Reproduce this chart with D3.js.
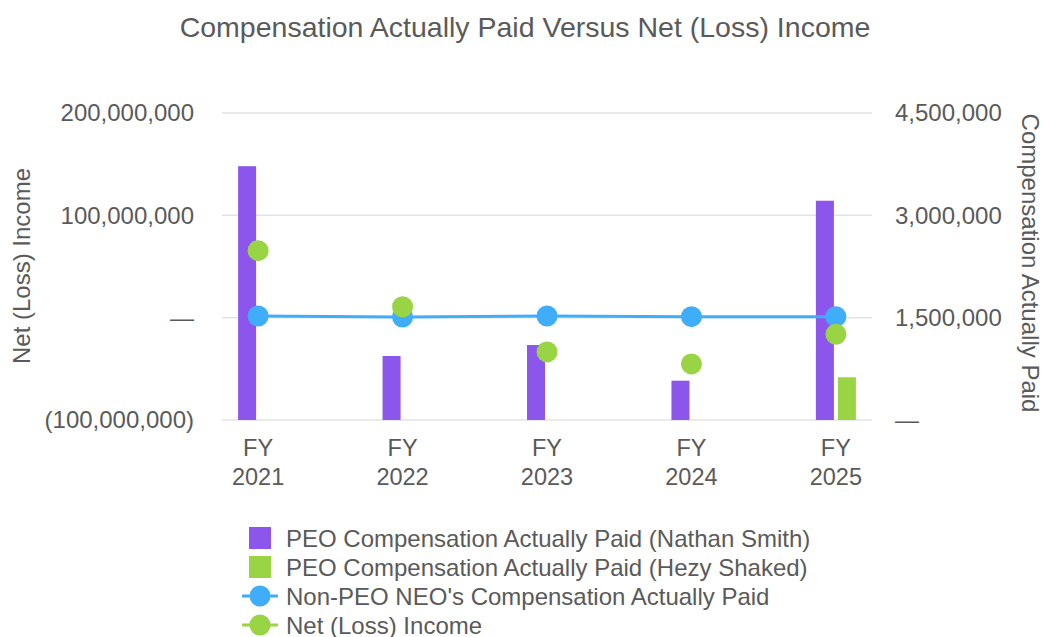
<!DOCTYPE html>
<html>
<head>
<meta charset="utf-8">
<script src="https://cdn.jsdelivr.net/npm/d3@7"></script>
<style>
  body { margin: 0; background: #fff; }
  text { font-family: "Liberation Sans", Arial, sans-serif; fill: #5a5a5a; }
</style>
</head>
<body>
<div id="chart"></div>
<script>
// данные графика
const years = ["2021", "2022", "2023", "2024", "2025"];
const peoSmith = [3720000, 938000, 1099000, 576000, 3214000];
const peoShaked = [null, null, null, null, 626000];
const nonPeo = [1524000, 1510000, 1524000, 1515000, 1515000];
const netIncome = [65500000, 10700000, -33500000, -45200000, -16200000];

const leftTicks = [-100000000, 0, 100000000, 200000000];
const rightTicks = [0, 1500000, 3000000, 4500000];

const seriesNames = [
    "PEO Compensation Actually Paid (Nathan Smith)",
    "PEO Compensation Actually Paid (Hezy Shaked)",
    "Non-PEO NEO's Compensation Actually Paid",
    "Net (Loss) Income"
];

const purple = "#8c55eb";
const green = "#98d444";
const blue = "#40adfb";

const width = 1043;
const height = 637;

const svg = d3.select("#chart").append("svg")
    .attr("width", width)
    .attr("height", height);

// оси
const x = d3.scalePoint().domain(years).range([222, 872]).padding(0.25);
const yLeft = d3.scaleLinear().domain([-100000000, 200000000]).range([420, 113]);
const yRight = d3.scaleLinear().domain([0, 4500000]).range([420, 113]);

const fmt = v => {
    if (v === 0) return "—";
    const s = d3.format(",")(Math.abs(v));
    return v < 0 ? "(" + s + ")" : s;
};

// сетка
svg.append("g")
    .selectAll("line")
    .data(rightTicks)
    .join("line")
    .attr("x1", 222)
    .attr("x2", 872)
    .attr("y1", d => yRight(d))
    .attr("y2", d => yRight(d))
    .attr("stroke", "#e3e3e3")
    .attr("stroke-width", 1.5);

// левая ось
const gl = svg.append("g")
    .attr("transform", "translate(194,0)")
    .call(d3.axisLeft(yLeft).tickValues(leftTicks).tickFormat(fmt).tickSize(0).tickPadding(0));
gl.select(".domain").remove();
gl.selectAll("text").attr("font-size", 24).attr("fill", "#5a5a5a").attr("font-family", null);

// правая ось
const gr = svg.append("g")
    .attr("transform", "translate(895,0)")
    .call(d3.axisRight(yRight).tickValues(rightTicks).tickFormat(fmt).tickSize(0).tickPadding(0));
gr.select(".domain").remove();
gr.selectAll("text").attr("font-size", 24).attr("fill", "#5a5a5a").attr("font-family", null);

// подписи по X
const gx = svg.append("g");
years.forEach(yr => {
    const t = gx.append("text")
        .attr("x", x(yr))
        .attr("text-anchor", "middle")
        .attr("font-size", 23.5);
    t.append("tspan").attr("x", x(yr)).attr("y", 456).text("FY");
    t.append("tspan").attr("x", x(yr)).attr("y", 485).text(yr);
});

// столбцы
const barW = 18;
svg.append("g")
    .selectAll("rect")
    .data(years.map((yr, i) => ({ yr, v: peoSmith[i] })).filter(d => d.v != null))
    .join("rect")
    .attr("x", d => x(d.yr) - 2 - barW)
    .attr("width", barW)
    .attr("y", d => yRight(d.v))
    .attr("height", d => yRight(0) - yRight(d.v))
    .attr("fill", purple);

svg.append("g")
    .selectAll("rect")
    .data(years.map((yr, i) => ({ yr, v: peoShaked[i] })).filter(d => d.v != null))
    .join("rect")
    .attr("x", d => x(d.yr) + 2)
    .attr("width", barW)
    .attr("y", d => yRight(d.v))
    .attr("height", d => yRight(0) - yRight(d.v))
    .attr("fill", green);

// линия Non-PEO
const line = d3.line()
    .x((d, i) => x(years[i]))
    .y(d => yRight(d));

svg.append("path")
    .datum(nonPeo)
    .attr("fill", "none")
    .attr("stroke", blue)
    .attr("stroke-width", 3)
    .attr("d", line);

svg.append("g")
    .selectAll("circle")
    .data(nonPeo)
    .join("circle")
    .attr("cx", (d, i) => x(years[i]))
    .attr("cy", d => yRight(d))
    .attr("r", 10.5)
    .attr("fill", blue);

// точки Net Income
svg.append("g")
    .selectAll("circle")
    .data(netIncome)
    .join("circle")
    .attr("cx", (d, i) => x(years[i]))
    .attr("cy", d => yLeft(d))
    .attr("r", 10.5)
    .attr("fill", green);

// заголовок
svg.append("text")
    .attr("x", 525)
    .attr("y", 37)
    .attr("text-anchor", "middle")
    .attr("font-size", 28.5)
    .text("Compensation Actually Paid Versus Net (Loss) Income");

// подписи осей
svg.append("text")
    .attr("transform", "translate(30,266) rotate(-90)")
    .attr("text-anchor", "middle")
    .attr("font-size", 24)
    .text("Net (Loss) Income");

svg.append("text")
    .attr("transform", "translate(1022,263) rotate(90)")
    .attr("text-anchor", "middle")
    .attr("font-size", 24)
    .text("Compensation Actually Paid");

// легенда
const legend = svg.append("g");
const rowY = [538, 567, 596, 625];
seriesNames.forEach((name, i) => {
    const g = legend.append("g").attr("transform", `translate(0,${rowY[i]})`);
    if (i < 2) {
        g.append("rect")
            .attr("x", 249).attr("y", -11)
            .attr("width", 22).attr("height", 22)
            .attr("fill", i === 0 ? purple : green);
    } else {
        const c = i === 2 ? blue : green;
        g.append("line")
            .attr("x1", 242).attr("x2", 278)
            .attr("stroke", c).attr("stroke-width", 3);
        g.append("circle").attr("cx", 260).attr("r", 10.5).attr("fill", c);
    }
    g.append("text")
        .attr("x", 286)
        .attr("y", 8.5)
        .attr("font-size", 24)
        .text(name);
});
</script>
</body>
</html>
